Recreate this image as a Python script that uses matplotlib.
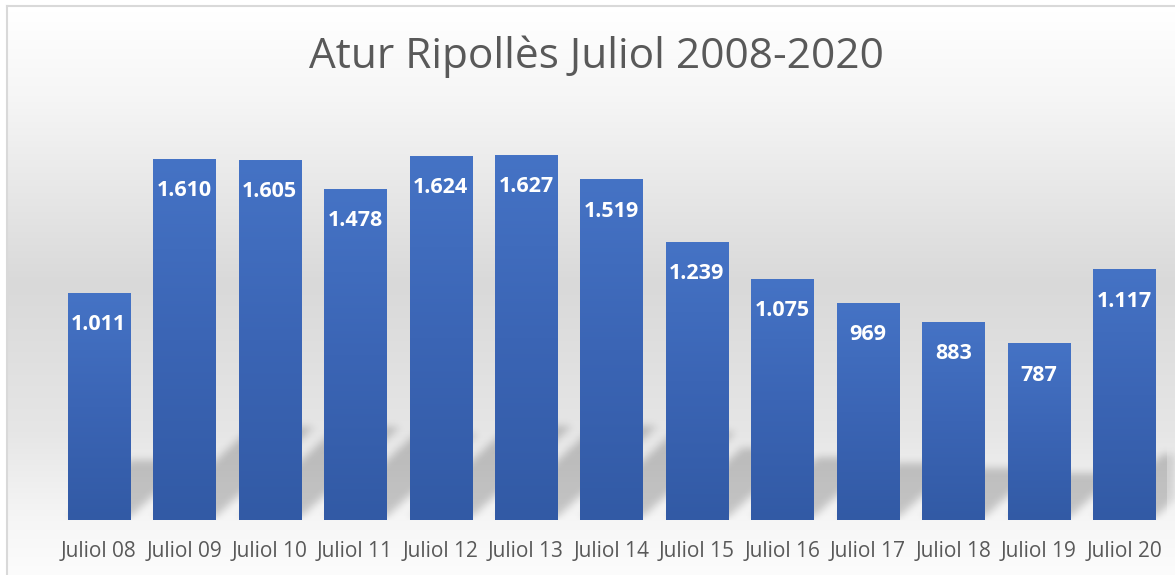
import numpy as np
import matplotlib
matplotlib.use("Agg")
import matplotlib.pyplot as plt
from matplotlib.colors import LinearSegmentedColormap
from matplotlib.path import Path

# Data
categories = ["Juliol 08", "Juliol 09", "Juliol 10", "Juliol 11", "Juliol 12", "Juliol 13", "Juliol 14",
              "Juliol 15", "Juliol 16", "Juliol 17", "Juliol 18", "Juliol 19", "Juliol 20"]
values = [1011, 1610, 1605, 1478, 1624, 1627, 1519, 1239, 1075, 969, 883, 787, 1117]
title = "Atur Ripollès Juliol 2008-2020"

W, H = 1175, 575
plt.rcParams['font.family'] = ['Open Sans', 'DejaVu Sans']
text_grey = '#595959'

fig = plt.figure(figsize=(W / 100, H / 100), dpi=100, facecolor='white')

# background axes in pixel coordinates (y up)
bg = fig.add_axes([0, 0, 1, 1])
bg.set_xlim(0, W)
bg.set_ylim(0, H)
bg.axis('off')

# vertical grey gradient of the chart area (stops given as pixel rows from top)
rows = np.arange(H)
grey = np.interp(rows, [6, 90, 280, 430, 520, 575], [255, 246, 217, 230, 246, 252]) / 255.0
bg_img = np.dstack([grey, grey, grey]).reshape(H, 1, 3)
bg.imshow(bg_img, extent=(7, W, 0, H - 6), origin='upper', aspect='auto', zorder=0)
bg.plot([7, 7], [0, H - 6], color='#d9d9d9', lw=1.5, zorder=3)
bg.plot([7, W], [H - 6, H - 6], color='#d9d9d9', lw=1.5, zorder=3)

# main axes
ax = fig.add_axes([56 / W, 55 / H, (1167 - 56) / W, 403 / H])
ax.patch.set_visible(False)
for s in ax.spines.values():
    s.set_visible(False)

x = np.arange(len(values))
bar_w = 0.726
bars = ax.bar(x, values, width=bar_w, color='#3b66b6', zorder=3)

# per-bar vertical gradient
bar_cmap = LinearSegmentedColormap.from_list('barg', ['#325aa5', '#3b65b5', '#4573c5'])
grad = np.linspace(0, 1, 256).reshape(-1, 1)
for r in bars:
    x0, w, h = r.get_x(), r.get_width(), r.get_height()
    ax.imshow(grad, extent=(x0, x0 + w, 0, h), origin='lower', aspect='auto', cmap=bar_cmap, zorder=4)

ax.set_xlim(-0.5, len(values) - 0.5)
ax.set_ylim(0, 1800)
ax.set_yticks([])
ax.set_xticks(x)
ax.set_xticklabels(categories, fontsize=15, color=text_grey)
ax.tick_params(axis='x', length=0, pad=15)

for xi, v in zip(x, values):
    ax.annotate(f"{v:,}".replace(",", "."), (xi, v), xytext=(0, -22.5), textcoords='offset points',
                ha='center', va='center', color='white', fontsize=15.5, fontweight='bold', zorder=6)

# perspective shadow behind bars, rasterised in pixel space and blurred
fig.canvas.draw()
yy, xx = np.mgrid[0:H, 0:W]
pts = np.column_stack([xx.ravel() + 0.5, yy.ravel() + 0.5])
mask = np.zeros(H * W)
shadow_frac, shear = 0.25, 1.1
for r in bars:
    x0, w, h = r.get_x(), r.get_width(), r.get_height()
    px0, base = ax.transData.transform((x0, 0))
    px1, top = ax.transData.transform((x0 + w, h))
    ph = shadow_frac * (top - base)
    dx = shear * ph
    b = base + 3
    poly = Path([(px0, b), (px1, b), (px1 + dx, b + ph), (px0 + dx, b + ph), (px0, b)])
    mask = np.maximum(mask, poly.contains_points(pts).astype(float))
mask = mask.reshape(H, W)

sigma = 4.0
k = np.arange(-12, 13)
kern = np.exp(-k ** 2 / (2 * sigma ** 2))
kern /= kern.sum()
mask = np.apply_along_axis(lambda m: np.convolve(m, kern, mode='same'), 1, mask)
mask = np.apply_along_axis(lambda m: np.convolve(m, kern, mode='same'), 0, mask)
_, base_px = ax.transData.transform((0, 0))
mask[:int(round(base_px)), :] = 0
mask[:, int(1167):] *= 0.6

shadow = np.zeros((H, W, 4))
shadow[..., 3] = mask * 0.2
bg.imshow(shadow, extent=(0, W, 0, H), origin='lower', aspect='auto', zorder=1)

fig.text(596 / W, 1 - 57 / H, title, ha='center', va='center', fontsize=30.5, color=text_grey)

fig.savefig('out.png', dpi=100, facecolor='white')
